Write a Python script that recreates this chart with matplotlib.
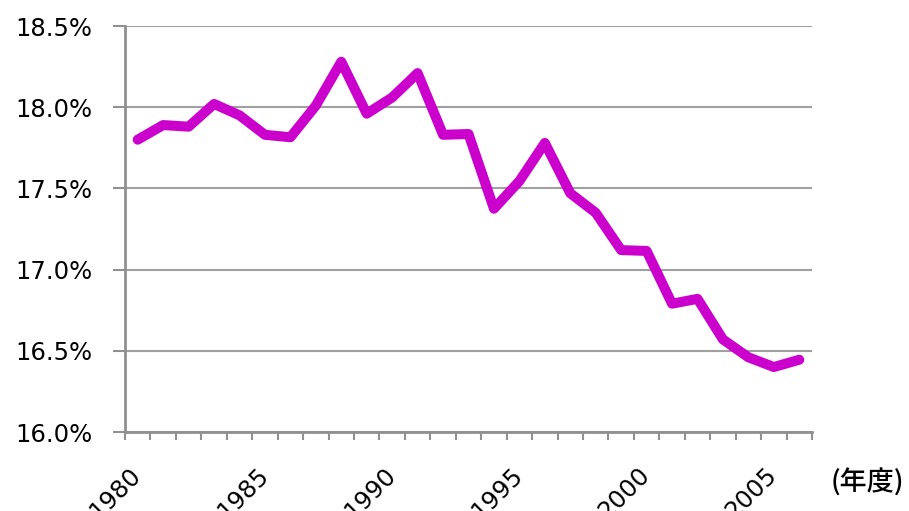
import matplotlib
matplotlib.use("Agg")
import matplotlib.pyplot as plt
import matplotlib.transforms as mtransforms
import numpy as np

years = list(range(1980, 2007))
values = [17.80, 17.89, 17.88, 18.02, 17.95, 17.83, 17.815, 18.01, 18.28, 17.96,
          18.06, 18.21, 17.83, 17.835, 17.375, 17.545, 17.78, 17.47, 17.35, 17.12,
          17.115, 16.79, 16.82, 16.57, 16.46, 16.40, 16.445]
ytick_vals = [16.0, 16.5, 17.0, 17.5, 18.0, 18.5]
label_years = [1980, 1985, 1990, 1995, 2000, 2005]

plt.rcParams['font.family'] = ['DejaVu Sans', 'Noto Sans CJK JP']

fig = plt.figure(figsize=(9.09, 5.11), dpi=100)
ax = fig.add_axes([125/909, 1-432/511, (812-125)/909, (432-26)/511])

x = np.arange(len(years))
ax.plot(x, values, color='#CC00CC', lw=7.2, solid_joinstyle='round', solid_capstyle='round', zorder=3)

ax.set_xlim(-0.5, len(years) - 0.5)
ax.set_ylim(16.0, 18.5)
ax.set_yticks(ytick_vals)
ax.set_yticklabels([f"{v:.1f}%" for v in ytick_vals])
ax.yaxis.grid(True, color='#a0a0a0', lw=1.5)
ax.set_axisbelow(True)

pos = [years.index(y) for y in label_years]
ax.set_xticks(pos)
ax.set_xticklabels([str(y) for y in label_years], rotation=45, ha='right')
ax.set_xticks(np.arange(-0.5, len(years), 1.0), minor=True)
ax.tick_params(axis='x', which='major', length=0, pad=22, labelsize=17.5, colors='black')
ax.tick_params(axis='x', which='minor', length=6, width=1.5, color='#909090')
ax.tick_params(axis='y', length=8.5, width=1.5, color='#909090', labelsize=17.5, pad=15)

offset = mtransforms.ScaledTranslation(8/100, 0, fig.dpi_scale_trans)
for lab in ax.get_xticklabels():
    lab.set_transform(lab.get_transform() + offset)

for s in ['top', 'right']:
    ax.spines[s].set_visible(False)
for s in ['left', 'bottom']:
    ax.spines[s].set_color('#909090')
    ax.spines[s].set_linewidth(2)

fig.text(831/909, 1-483/511, '(年度)', fontsize=19.5, family=['Noto Sans CJK JP', 'DejaVu Sans'],
         ha='left', va='center', weight='medium')

fig.savefig('out.png', dpi=100)
